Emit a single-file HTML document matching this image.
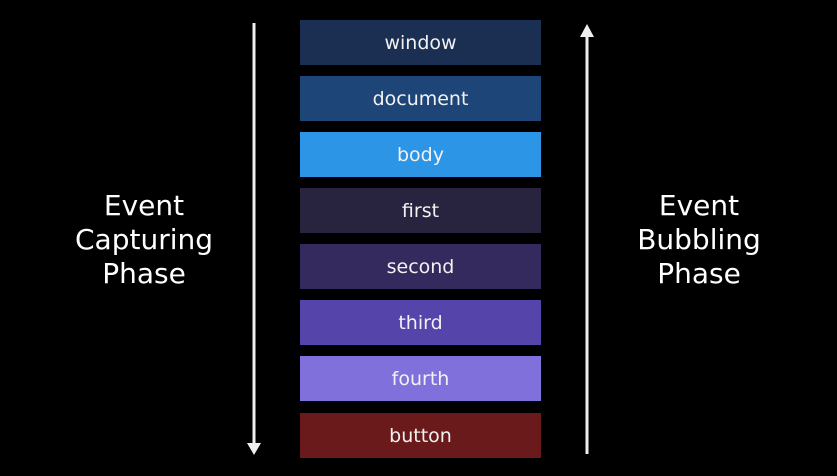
<!DOCTYPE html>
<html><head><style>
html,body{margin:0;padding:0;background:#000;width:837px;height:476px;overflow:hidden}
.b{position:absolute;left:300px;width:241px;height:45px;color:#f2f2f2;font:19px "DejaVu Sans","Liberation Sans",sans-serif;text-align:center;line-height:47px}
.t{position:absolute;width:200px;text-align:center;color:#fff;font:28px/34px "DejaVu Sans","Liberation Sans",sans-serif}
</style></head><body>
<div class="b" style="top:20px;background:#1b2f52">window</div>
<div class="b" style="top:76px;background:#1d4577">document</div>
<div class="b" style="top:132px;background:#2d95e6">body</div>
<div class="b" style="top:188px;background:#28243f">first</div>
<div class="b" style="top:244px;background:#352a5e">second</div>
<div class="b" style="top:300px;background:#5544aa">third</div>
<div class="b" style="top:356px;background:#8070dc">fourth</div>
<div class="b" style="top:413px;background:#6b1a1c">button</div>
<div class="t" style="left:44px;top:189px">Event<br>Capturing<br>Phase</div>
<div class="t" style="left:599px;top:189px">Event<br>Bubbling<br>Phase</div>
<svg width="837" height="476" style="position:absolute;left:0;top:0">
<line x1="254" y1="23" x2="254" y2="445" stroke="#eee" stroke-width="3"/>
<polygon points="247,443 261,443 254,455" fill="#eee"/>
<line x1="587" y1="34" x2="587" y2="454" stroke="#eee" stroke-width="3"/>
<polygon points="580,37 594,37 587,24" fill="#eee"/>
</svg>
</body></html>
